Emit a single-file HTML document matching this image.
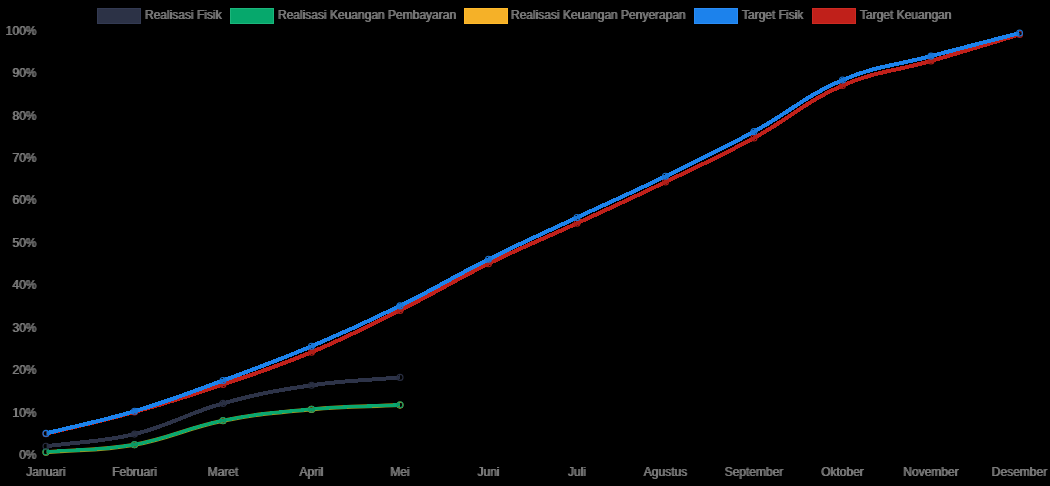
<!DOCTYPE html><html><head><meta charset="utf-8"><style>html,body{margin:0;padding:0;background:#000;}body{width:1050px;height:486px;overflow:hidden;position:relative;font-family:"Liberation Sans",sans-serif;}svg{position:absolute;left:0;top:0;}text{font-family:"Liberation Sans",sans-serif;font-size:12px;fill:#7a7a7a;}svg{will-change:transform;}</style></head><body>
<svg width="1050" height="486" viewBox="0 0 1050 486">
<clipPath id="c"><rect x="46.6" y="29.2" width="972.9" height="428.3"/></clipPath>
<path d="M46.00 433.80 C81.40 425.08 99.39 421.78 134.50 412.00 C170.19 402.06 187.89 396.36 223.00 384.50 C258.69 372.44 276.78 366.74 311.50 352.20 C347.58 337.10 364.99 327.90 400.00 310.40 C435.79 292.50 452.60 281.37 488.50 263.70 C523.40 246.53 541.67 239.61 577.00 223.30 C612.47 206.93 630.31 198.96 665.50 182.00 C701.11 164.84 719.31 156.91 754.00 138.00 C790.11 118.31 805.09 101.78 842.50 85.50 C875.89 70.98 895.71 71.17 931.00 61.00 C966.51 50.77 984.10 45.10 1019.50 34.50" fill="none" stroke="#c0201a" stroke-width="4" clip-path="url(#c)" stroke-linejoin="miter" shape-rendering="crispEdges"/>
<circle cx="46.00" cy="433.80" r="3" fill="#000" fill-opacity="0.08" stroke="#b01d17" stroke-width="1.1"/>
<circle cx="134.50" cy="412.00" r="3" fill="#000" fill-opacity="0.08" stroke="#b01d17" stroke-width="1.1"/>
<circle cx="223.00" cy="384.50" r="3" fill="#000" fill-opacity="0.08" stroke="#b01d17" stroke-width="1.1"/>
<circle cx="311.50" cy="352.20" r="3" fill="#000" fill-opacity="0.08" stroke="#b01d17" stroke-width="1.1"/>
<circle cx="400.00" cy="310.40" r="3" fill="#000" fill-opacity="0.08" stroke="#b01d17" stroke-width="1.1"/>
<circle cx="488.50" cy="263.70" r="3" fill="#000" fill-opacity="0.08" stroke="#b01d17" stroke-width="1.1"/>
<circle cx="577.00" cy="223.30" r="3" fill="#000" fill-opacity="0.08" stroke="#b01d17" stroke-width="1.1"/>
<circle cx="665.50" cy="182.00" r="3" fill="#000" fill-opacity="0.08" stroke="#b01d17" stroke-width="1.1"/>
<circle cx="754.00" cy="138.00" r="3" fill="#000" fill-opacity="0.08" stroke="#b01d17" stroke-width="1.1"/>
<circle cx="842.50" cy="85.50" r="3" fill="#000" fill-opacity="0.08" stroke="#b01d17" stroke-width="1.1"/>
<circle cx="931.00" cy="61.00" r="3" fill="#000" fill-opacity="0.08" stroke="#b01d17" stroke-width="1.1"/>
<circle cx="1019.50" cy="34.50" r="3" fill="#000" fill-opacity="0.08" stroke="#b01d17" stroke-width="1.1"/>
<path d="M46.00 433.40 C81.40 424.52 99.57 421.64 134.50 411.20 C170.37 400.48 187.83 393.40 223.00 380.50 C258.63 367.44 276.54 361.03 311.50 346.30 C347.34 331.19 365.09 323.06 400.00 305.90 C435.89 288.26 452.72 277.17 488.50 259.30 C523.52 241.81 541.55 234.12 577.00 217.50 C612.35 200.92 630.37 193.35 665.50 176.30 C701.17 158.99 719.18 150.55 754.00 131.60 C789.98 112.03 805.14 95.94 842.50 80.00 C875.94 65.74 895.56 65.49 931.00 56.10 C966.36 46.73 984.10 42.30 1019.50 33.10" fill="none" stroke="#1c82ec" stroke-width="4" clip-path="url(#c)" stroke-linejoin="miter" shape-rendering="crispEdges"/>
<circle cx="46.00" cy="433.40" r="3" fill="#000" fill-opacity="0.08" stroke="#1977d9" stroke-width="1.1"/>
<circle cx="134.50" cy="411.20" r="3" fill="#000" fill-opacity="0.08" stroke="#1977d9" stroke-width="1.1"/>
<circle cx="223.00" cy="380.50" r="3" fill="#000" fill-opacity="0.08" stroke="#1977d9" stroke-width="1.1"/>
<circle cx="311.50" cy="346.30" r="3" fill="#000" fill-opacity="0.08" stroke="#1977d9" stroke-width="1.1"/>
<circle cx="400.00" cy="305.90" r="3" fill="#000" fill-opacity="0.08" stroke="#1977d9" stroke-width="1.1"/>
<circle cx="488.50" cy="259.30" r="3" fill="#000" fill-opacity="0.08" stroke="#1977d9" stroke-width="1.1"/>
<circle cx="577.00" cy="217.50" r="3" fill="#000" fill-opacity="0.08" stroke="#1977d9" stroke-width="1.1"/>
<circle cx="665.50" cy="176.30" r="3" fill="#000" fill-opacity="0.08" stroke="#1977d9" stroke-width="1.1"/>
<circle cx="754.00" cy="131.60" r="3" fill="#000" fill-opacity="0.08" stroke="#1977d9" stroke-width="1.1"/>
<circle cx="842.50" cy="80.00" r="3" fill="#000" fill-opacity="0.08" stroke="#1977d9" stroke-width="1.1"/>
<circle cx="931.00" cy="56.10" r="3" fill="#000" fill-opacity="0.08" stroke="#1977d9" stroke-width="1.1"/>
<circle cx="1019.50" cy="33.10" r="3" fill="#000" fill-opacity="0.08" stroke="#1977d9" stroke-width="1.1"/>
<path d="M46.00 452.20 C81.40 449.20 99.66 450.90 134.50 444.70 C170.46 438.30 187.12 427.86 223.00 420.70 C257.92 413.74 275.98 412.53 311.50 409.40 C346.78 406.29 364.60 406.82 400.00 405.10" fill="none" stroke="#a8c238" stroke-width="4" clip-path="url(#c)" stroke-linejoin="miter" stroke-opacity="0.8"/>
<circle cx="46.00" cy="452.20" r="3" fill="#000" fill-opacity="0.08" stroke="#e3a322" stroke-width="1.1"/>
<circle cx="134.50" cy="444.70" r="3" fill="#000" fill-opacity="0.08" stroke="#e3a322" stroke-width="1.1"/>
<circle cx="223.00" cy="420.70" r="3" fill="#000" fill-opacity="0.08" stroke="#e3a322" stroke-width="1.1"/>
<circle cx="311.50" cy="409.40" r="3" fill="#000" fill-opacity="0.08" stroke="#e3a322" stroke-width="1.1"/>
<circle cx="400.00" cy="405.10" r="3" fill="#000" fill-opacity="0.08" stroke="#e3a322" stroke-width="1.1"/>
<path d="M46.00 451.90 C81.40 448.98 99.67 450.78 134.50 444.60 C170.47 438.22 187.11 427.68 223.00 420.50 C257.91 413.52 275.98 412.35 311.50 409.20 C346.78 406.07 364.60 406.56 400.00 404.80" fill="none" stroke="#0aa86f" stroke-width="3.2" clip-path="url(#c)" stroke-linejoin="miter" shape-rendering="crispEdges"/>
<circle cx="46.00" cy="451.90" r="3" fill="#000" fill-opacity="0.08" stroke="#099a66" stroke-width="1.1"/>
<circle cx="134.50" cy="444.60" r="3" fill="#000" fill-opacity="0.08" stroke="#099a66" stroke-width="1.1"/>
<circle cx="223.00" cy="420.50" r="3" fill="#000" fill-opacity="0.08" stroke="#099a66" stroke-width="1.1"/>
<circle cx="311.50" cy="409.20" r="3" fill="#000" fill-opacity="0.08" stroke="#099a66" stroke-width="1.1"/>
<circle cx="400.00" cy="404.80" r="3" fill="#000" fill-opacity="0.08" stroke="#099a66" stroke-width="1.1"/>
<path d="M46.00 446.30 C81.40 441.42 99.94 442.48 134.50 434.10 C170.74 425.32 186.96 413.34 223.00 403.40 C257.76 393.82 275.81 390.54 311.50 385.30 C346.61 380.14 364.60 380.56 400.00 377.40" fill="none" stroke="#2d3348" stroke-width="4" clip-path="url(#c)" stroke-linejoin="miter" shape-rendering="crispEdges"/>
<circle cx="46.00" cy="446.30" r="3" fill="#000" fill-opacity="0.08" stroke="#292e42" stroke-width="1.1"/>
<circle cx="134.50" cy="434.10" r="3" fill="#000" fill-opacity="0.08" stroke="#292e42" stroke-width="1.1"/>
<circle cx="223.00" cy="403.40" r="3" fill="#000" fill-opacity="0.08" stroke="#292e42" stroke-width="1.1"/>
<circle cx="311.50" cy="385.30" r="3" fill="#000" fill-opacity="0.08" stroke="#292e42" stroke-width="1.1"/>
<circle cx="400.00" cy="377.40" r="3" fill="#000" fill-opacity="0.08" stroke="#292e42" stroke-width="1.1"/>
<rect x="97.5" y="8.5" width="43" height="15" fill="#2c3246" stroke="#333a52" stroke-width="1"/>
<text x="144.50" y="19.00">Realisasi Fisik</text><text x="145.50" y="19.00">Realisasi Fisik</text>
<rect x="230.5" y="8.5" width="43" height="15" fill="#06a86c" stroke="#1cb67c" stroke-width="1"/>
<text x="277.50" y="19.00">Realisasi Keuangan Pembayaran</text><text x="278.50" y="19.00">Realisasi Keuangan Pembayaran</text>
<rect x="464.5" y="8.5" width="43" height="15" fill="#f5b128" stroke="#ffb92a" stroke-width="1"/>
<text x="510.50" y="19.00">Realisasi Keuangan Penyerapan</text><text x="511.50" y="19.00">Realisasi Keuangan Penyerapan</text>
<rect x="694.5" y="8.5" width="43" height="15" fill="#1c82ec" stroke="#2a8cf5" stroke-width="1"/>
<text x="741.50" y="19.00">Target Fisik</text><text x="742.50" y="19.00">Target Fisik</text>
<rect x="812.5" y="8.5" width="43" height="15" fill="#c0201a" stroke="#cc2a22" stroke-width="1"/>
<text x="859.50" y="19.00">Target Keuangan</text><text x="860.50" y="19.00">Target Keuangan</text>
<text x="36.00" y="459.00" text-anchor="end">0%</text><text x="37.00" y="459.00" text-anchor="end">0%</text>
<text x="36.00" y="416.57" text-anchor="end">10%</text><text x="37.00" y="416.57" text-anchor="end">10%</text>
<text x="36.00" y="374.14" text-anchor="end">20%</text><text x="37.00" y="374.14" text-anchor="end">20%</text>
<text x="36.00" y="331.71" text-anchor="end">30%</text><text x="37.00" y="331.71" text-anchor="end">30%</text>
<text x="36.00" y="289.28" text-anchor="end">40%</text><text x="37.00" y="289.28" text-anchor="end">40%</text>
<text x="36.00" y="246.85" text-anchor="end">50%</text><text x="37.00" y="246.85" text-anchor="end">50%</text>
<text x="36.00" y="204.42" text-anchor="end">60%</text><text x="37.00" y="204.42" text-anchor="end">60%</text>
<text x="36.00" y="161.99" text-anchor="end">70%</text><text x="37.00" y="161.99" text-anchor="end">70%</text>
<text x="36.00" y="119.56" text-anchor="end">80%</text><text x="37.00" y="119.56" text-anchor="end">80%</text>
<text x="36.00" y="77.13" text-anchor="end">90%</text><text x="37.00" y="77.13" text-anchor="end">90%</text>
<text x="36.00" y="34.70" text-anchor="end">100%</text><text x="37.00" y="34.70" text-anchor="end">100%</text>
<text x="45.50" y="476.00" text-anchor="middle">Januari</text><text x="46.50" y="476.00" text-anchor="middle">Januari</text>
<text x="134.00" y="476.00" text-anchor="middle">Februari</text><text x="135.00" y="476.00" text-anchor="middle">Februari</text>
<text x="222.50" y="476.00" text-anchor="middle">Maret</text><text x="223.50" y="476.00" text-anchor="middle">Maret</text>
<text x="311.00" y="476.00" text-anchor="middle">April</text><text x="312.00" y="476.00" text-anchor="middle">April</text>
<text x="399.50" y="476.00" text-anchor="middle">Mei</text><text x="400.50" y="476.00" text-anchor="middle">Mei</text>
<text x="488.00" y="476.00" text-anchor="middle">Juni</text><text x="489.00" y="476.00" text-anchor="middle">Juni</text>
<text x="576.50" y="476.00" text-anchor="middle">Juli</text><text x="577.50" y="476.00" text-anchor="middle">Juli</text>
<text x="665.00" y="476.00" text-anchor="middle">Agustus</text><text x="666.00" y="476.00" text-anchor="middle">Agustus</text>
<text x="753.50" y="476.00" text-anchor="middle">September</text><text x="754.50" y="476.00" text-anchor="middle">September</text>
<text x="842.00" y="476.00" text-anchor="middle">Oktober</text><text x="843.00" y="476.00" text-anchor="middle">Oktober</text>
<text x="930.50" y="476.00" text-anchor="middle">November</text><text x="931.50" y="476.00" text-anchor="middle">November</text>
<text x="1019.00" y="476.00" text-anchor="middle">Desember</text><text x="1020.00" y="476.00" text-anchor="middle">Desember</text>
</svg></body></html>
